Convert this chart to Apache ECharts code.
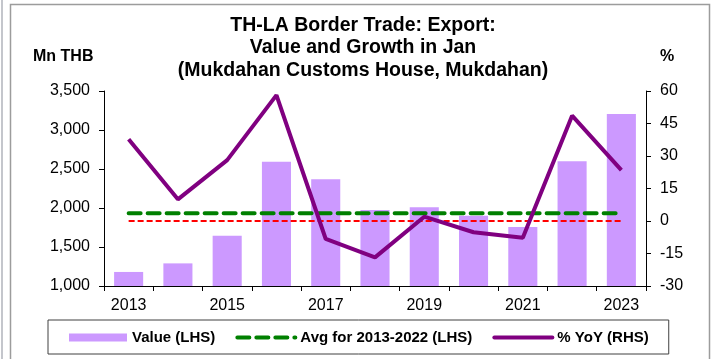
<!DOCTYPE html>
<html>
<head>
<meta charset="utf-8">
<title>TH-LA Border Trade: Export</title>
<script src="https://cdn.jsdelivr.net/npm/echarts@6/dist/echarts.min.js"></script>
<style>
  html, body { margin: 0; padding: 0; background: #ffffff; }
  #chart { width: 712px; height: 359px; }
</style>
</head>
<body>
<div id="chart"></div>
<script>
// Years on the category axis
const categories = ['2013', '2014', '2015', '2016', '2017', '2018', '2019', '2020', '2021', '2022', '2023'];
// Export value in January, million THB (left axis)
const exportValue = [1180, 1290, 1645, 2594, 2370, 1975, 2010, 1900, 1755, 2600, 3205];
// Year-on-year growth, % (right axis)
const yoyGrowth = [37.7, 10.0, 28.1, 58.1, -8.3, -16.8, 2.0, -5.2, -7.7, 48.6, 23.5];
// Average January export value for 2013-2022, million THB
const avgValue = 1932;
// Zero reference on the growth axis
const zeroLine = [0, 0, 0, 0, 0, 0, 0, 0, 0, 0, 0];
// Axis ranges: [min, max, interval]
const leftAxisRange = [1000, 3500, 500];
const rightAxisRange = [-30, 60, 15];

const avgLine = categories.map(() => avgValue);
const FONT = "'Liberation Sans', Arial, sans-serif";

const chart = echarts.init(document.getElementById('chart'), null, { renderer: 'canvas' });

chart.setOption({
  animation: false,
  backgroundColor: '#ffffff',
  textStyle: { fontFamily: FONT, color: '#000' },
  graphic: [
    { type: 'line', shape: { x1: 2, y1: 0, x2: 2, y2: 359 }, style: { stroke: '#c4c6cc', lineWidth: 2 } },
    { type: 'rect', shape: { x: 10.5, y: 4.5, width: 699, height: 380 }, style: { fill: 'none', stroke: '#9c9c9c', lineWidth: 1.5 } }
  ],
  title: [
    {
      text: 'TH-LA Border Trade: Export:\nValue and Growth in Jan\n(Mukdahan Customs House, Mukdahan)',
      left: 363,
      top: 14,
      textAlign: 'center',
      padding: 0,
      textStyle: { fontFamily: FONT, fontSize: 19.5, fontWeight: 'bold', lineHeight: 22.5, color: '#000' }
    },
    {
      text: 'Mn THB', left: 33, top: 49, padding: 0,
      textStyle: { fontFamily: FONT, fontSize: 16, fontWeight: 'bold', color: '#000' }
    },
    {
      text: '%', left: 660, top: 49, padding: 0,
      textStyle: { fontFamily: FONT, fontSize: 16, fontWeight: 'bold', color: '#000' }
    }
  ],
  legend: {
    left: 48,
    top: 320,
    padding: [10, 20, 9, 21],
    borderColor: '#404040',
    borderWidth: 1,
    itemWidth: 58,
    itemHeight: 8,
    itemGap: 20,
    selectedMode: false,
    textStyle: { fontFamily: FONT, fontSize: 15, fontWeight: 'bold', color: '#000' },
    data: [
      { name: 'Value (LHS)', icon: 'rect' },
      {
        name: 'Avg for 2013-2022 (LHS)',
        itemStyle: { opacity: 0 },
        lineStyle: { color: '#008000', width: 4, type: [12, 7], cap: 'round' }
      },
      {
        name: '% YoY (RHS)',
        itemStyle: { opacity: 0 },
        lineStyle: { color: '#800080', width: 4, cap: 'round' }
      }
    ]
  },
  grid: { left: 104, right: 66, top: 91, bottom: 73, containLabel: false },
  xAxis: {
    type: 'category',
    data: categories,
    boundaryGap: true,
    axisLine: { onZero: false, lineStyle: { color: '#000', width: 1 } },
    axisTick: { show: true, interval: 0, length: 5, lineStyle: { color: '#000' } },
    axisLabel: { interval: 1, margin: 12, fontFamily: FONT, fontSize: 16, color: '#000' },
    splitLine: { show: false }
  },
  yAxis: [
    {
      type: 'value',
      min: leftAxisRange[0], max: leftAxisRange[1], interval: leftAxisRange[2],
      axisLine: { show: true, lineStyle: { color: '#000' } },
      axisTick: { show: true, length: 5, lineStyle: { color: '#000' } },
      axisLabel: {
        margin: 14, fontFamily: FONT, fontSize: 16, color: '#000',
        formatter: v => v.toLocaleString('en-US')
      },
      splitLine: { show: false }
    },
    {
      type: 'value',
      min: rightAxisRange[0], max: rightAxisRange[1], interval: rightAxisRange[2],
      position: 'right',
      axisLine: { show: true, onZero: false, lineStyle: { color: '#000' } },
      axisTick: { show: true, length: 5, lineStyle: { color: '#000' } },
      axisLabel: { margin: 14, fontFamily: FONT, fontSize: 16, color: '#000' },
      splitLine: { show: false }
    }
  ],
  series: [
    {
      name: 'Value (LHS)',
      type: 'bar',
      yAxisIndex: 0,
      data: exportValue,
      barWidth: '59%',
      itemStyle: { color: '#cc99ff' }
    },
    {
      name: 'Avg for 2013-2022 (LHS)',
      type: 'line',
      yAxisIndex: 0,
      data: avgLine,
      symbol: 'none',
      lineStyle: { color: '#008000', width: 4, type: [12, 7], cap: 'round' },
      itemStyle: { color: '#008000' }
    },
    {
      name: 'zero',
      type: 'line',
      yAxisIndex: 1,
      data: zeroLine,
      symbol: 'none',
      lineStyle: { color: '#ff0000', width: 2, type: [6, 3] },
      itemStyle: { color: '#ff0000' }
    },
    {
      name: '% YoY (RHS)',
      type: 'line',
      yAxisIndex: 1,
      data: yoyGrowth,
      symbol: 'none',
      lineStyle: { color: '#800080', width: 4 },
      itemStyle: { color: '#800080' }
    }
  ]
});
</script>
</body>
</html>
